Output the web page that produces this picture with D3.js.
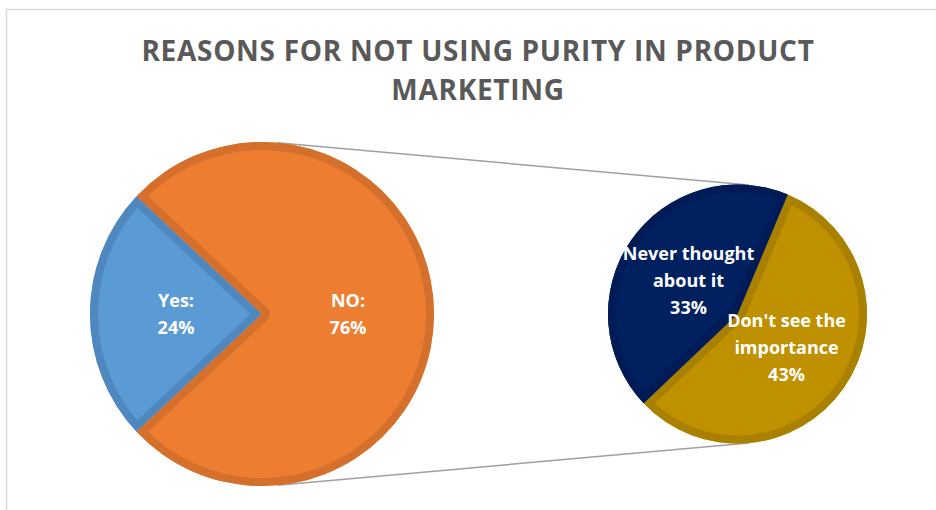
<!DOCTYPE html>
<html>
<head>
<meta charset="utf-8">
<script src="https://cdn.jsdelivr.net/npm/d3@7"></script>
<style>
  body { margin: 0; background: #fff; }
  svg { display: block; }
</style>
</head>
<body>
<svg id="chart" width="936" height="510"></svg>
<script>
// ---- data ----
const titleLines = ["REASONS FOR NOT USING PURITY IN PRODUCT", "MARKETING"];

const mainCategories = ["Yes", "NO"];
const mainValues = [24, 76];

const detailCategories = ["Don't see the importance", "Never thought about it"];
const detailValues = [43, 33];

// ---- styling ----
const mainColors = ["#5B9BD5", "#ED7D31"];
const mainEdgeColors = ["#4E88BF", "#D5702C"];
const detailColors = ["#BF9000", "#002060"];
const detailEdgeColors = ["#A98000", "#001B55"];

const W = 936, H = 510;
const svg = d3.select("#chart");

// chart frame
svg.append("path")
  .attr("d", `M${W},9.5 H6.5 V${H}`)
  .attr("fill", "none")
  .attr("stroke", "#d9d9d9")
  .attr("stroke-width", 1.5);

// title
svg.append("g").selectAll("text")
  .data(titleLines)
  .join("text")
  .attr("x", 478)
  .attr("y", (d, i) => 61 + i * 39)
  .attr("text-anchor", "middle")
  .attr("font-family", "'Open Sans', sans-serif")
  .attr("font-weight", "bold")
  .attr("font-size", 28)
  .attr("letter-spacing", 0.7)
  .attr("fill", "#595959")
  .text(d => d);

// geometry of the two pies
const c1 = { x: 262, y: 314, r: 172 };
const c2 = { x: 737.5, y: 314, r: 129.5 };

// connector lines: outer common tangents of both circles
const dist = c2.x - c1.x;
const alpha = Math.asin((c1.r - c2.r) / dist);
[-1, 1].forEach(s => {
  svg.append("line")
    .attr("x1", c1.x + c1.r * Math.sin(alpha))
    .attr("y1", c1.y + s * c1.r * Math.cos(alpha))
    .attr("x2", c2.x + c2.r * Math.sin(alpha))
    .attr("y2", c2.y + s * c2.r * Math.cos(alpha))
    .attr("stroke", "#a0a0a0")
    .attr("stroke-width", 1.5);
});

const total = d3.sum(mainValues);
const yesFrac = mainValues[0] / total;

// main pie: the "Yes" slice is centred on the left side
const mainStart = 1.5 * Math.PI - yesFrac * Math.PI;
const mainPie = d3.pie().sort(null)
  .startAngle(mainStart).endAngle(mainStart + 2 * Math.PI);

// detail pie breaks down the "NO" share
const detailStart = 22.8 * Math.PI / 180;
const detailPie = d3.pie().sort(null)
  .startAngle(detailStart).endAngle(detailStart + 2 * Math.PI);

let clipId = 0;
function drawPie(center, arcsData, colors, edgeColors, labelFrac, labelLines) {
  const g = svg.append("g").attr("transform", `translate(${center.x},${center.y})`);
  const arc = d3.arc().innerRadius(0).outerRadius(center.r);
  const labelArc = d3.arc().innerRadius(center.r * labelFrac).outerRadius(center.r * labelFrac);

  arcsData.forEach((a, i) => {
    const d = arc(a);
    const id = "slice-clip-" + (clipId++);
    g.append("clipPath").attr("id", id).append("path").attr("d", d);
    g.append("path").attr("d", d).attr("fill", colors[i]);
    // darker inner rim along every edge of the slice
    g.append("path").attr("d", d)
      .attr("fill", "none")
      .attr("stroke", edgeColors[i])
      .attr("stroke-width", 16)
      .attr("stroke-linejoin", "round")
      .attr("clip-path", `url(#${id})`);
  });

  arcsData.forEach((a, i) => {
    const [lx, ly] = labelArc.centroid(a);
    const lines = labelLines(i);
    const lh = 27;
    const t = g.append("text")
      .attr("text-anchor", "middle")
      .attr("font-family", "'Open Sans', sans-serif")
      .attr("font-weight", "bold")
      .attr("font-size", 18)
      .attr("fill", "#ffffff");
    lines.forEach((ln, k) => {
      t.append("tspan")
        .attr("x", lx)
        .attr("y", ly + (k - (lines.length - 1) / 2) * lh + 6.5)
        .text(ln);
    });
  });
}

function wrap(str, maxChars) {
  const words = str.split(" ");
  const out = [];
  let cur = "";
  words.forEach(w => {
    const next = cur ? cur + " " + w : w;
    if (next.length > maxChars && cur) { out.push(cur); cur = w; }
    else cur = next;
  });
  if (cur) out.push(cur);
  return out;
}

drawPie(c1, mainPie(mainValues), mainColors, mainEdgeColors, 0.5,
  i => [mainCategories[i] + ":", mainValues[i] + "%"]);

drawPie(c2, detailPie(detailValues), detailColors, detailEdgeColors, 0.46,
  i => [...wrap(detailCategories[i], 13), detailValues[i] + "%"]);
</script>
</body>
</html>
